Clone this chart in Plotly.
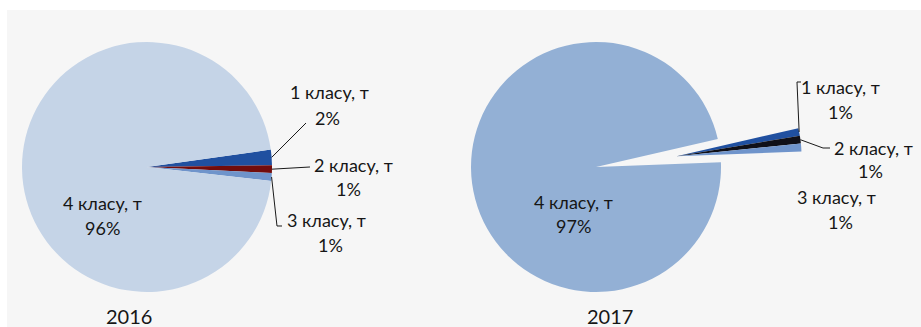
import math
import plotly.graph_objects as go

# --- data -------------------------------------------------------------
categories = ["1 класу, т", "2 класу, т", "3 класу, т", "4 класу, т"]
years = ["2016", "2017"]
shares_2016 = [2, 1, 1, 96]
shares_2017 = [1, 1, 1, 97]

# --- styling ----------------------------------------------------------
colors_2016 = ["#2050a0", "#720c0c", "#6f94cb", "#c5d4e7"]
colors_2017 = ["#2050a0", "#101018", "#6f94cb", "#93b0d5"]
CLEAR = "rgba(0,0,0,0)"
TEXT = "#161616"
FONT = "Lato"
FS = 18
FS_YEAR = 20

W, H = 921, 327
R = 125                      # pie radius, px
C16 = (147, 167)             # pie centres, px
C17 = (596, 167)
ROT16, ROT17 = 82, 77        # start angle of first slice (deg clockwise from 12 o'clock)
PULL17 = 0.65                # explosion of the small slices in 2017, fraction of R


def fx(px):
    return px / W


def fy(py):
    return 1 - py / H


def domain(c):
    cx, cy = c
    return dict(x=[fx(cx - R), fx(cx + R)], y=[fy(cy + R), fy(cy - R)])


def mid_angles(values, rotation):
    total = sum(values)
    out, cur = [], rotation
    for v in values:
        span = 360 * v / total
        out.append(cur + span / 2)
        cur += span
    return out


def rim(c, ang, r=R):
    a = math.radians(ang)
    return c[0] + r * math.sin(a), c[1] - r * math.cos(a)


def pie(values, colors, c, rotation):
    return go.Pie(
        labels=categories, values=values, sort=False, direction="clockwise",
        rotation=rotation, domain=domain(c), textinfo="none", hoverinfo="skip",
        marker=dict(colors=colors, line=dict(width=0)), showlegend=False,
    )


# 2017: the three small slices are exploded together along their common bisector
small_total = sum(shares_2017[:3])
group_mid = ROT17 + 360 * small_total / sum(shares_2017) / 2
off = PULL17 * R
C17w = (C17[0] + off * math.sin(math.radians(group_mid)),
        C17[1] - off * math.cos(math.radians(group_mid)))

fig = go.Figure()
fig.add_trace(pie(shares_2016, colors_2016, C16, ROT16))
fig.add_trace(pie(shares_2017, [CLEAR] * 3 + colors_2017[3:], C17, ROT17))
fig.add_trace(pie(shares_2017, colors_2017[:3] + [CLEAR], C17w, ROT17))

m16 = mid_angles(shares_2016, ROT16)
m17 = mid_angles(shares_2017, ROT17)

shapes = [
    # white strips framing the grey chart area
    dict(type="rect", xref="paper", yref="paper", x0=0, x1=1, y0=fy(10), y1=1,
         fillcolor="white", line_width=0),
    dict(type="rect", xref="paper", yref="paper", x0=0, x1=fx(7), y0=0, y1=1,
         fillcolor="white", line_width=0),
]


def leader(start, pts):
    path = "M {:.5f},{:.5f}".format(fx(start[0]), fy(start[1]))
    for p in pts:
        path += " L {:.5f},{:.5f}".format(fx(p[0]), fy(p[1]))
    shapes.append(dict(type="path", xref="paper", yref="paper", path=path,
                       line=dict(color="#1a1a1a", width=1)))


# leader lines: from the rim of each small slice to its label
leader(rim(C16, m16[0]), [(306, 123)])
leader(rim(C16, m16[1]), [(310, 167)])
leader(rim(C16, m16[2]), [(277, 226), (282, 226)])
leader(rim(C17w, m17[0]), [(797, 82), (801, 82)])
leader(rim(C17w, m17[1]), [(823, 148), (830, 148)])

annotations = []


def label(text, x, y, xanchor="center", size=FS):
    annotations.append(dict(text=text, x=fx(x), y=fy(y), xref="paper", yref="paper",
                            xanchor=xanchor, yanchor="middle", showarrow=False,
                            font=dict(family=FONT, size=size, color=TEXT)))


def pct(v):
    return f"{v}%"


# 2016 labels
label(categories[0], 329, 92)
label(pct(shares_2016[0]), 327, 118)
label(categories[1], 312, 165, "left")
label(pct(shares_2016[1]), 348, 189)
label(categories[2], 326, 220)
label(pct(shares_2016[2]), 330, 245)
label(categories[3], 102, 203)
label(pct(shares_2016[3]), 102, 228)

# 2017 labels
label(categories[0], 840, 87)
label(pct(shares_2017[0]), 840, 112)
label(categories[1], 832, 148, "left")
label(pct(shares_2017[1]), 870, 171)
label(categories[2], 836, 197)
label(pct(shares_2017[2]), 840, 222)
label(categories[3], 573, 202)
label(pct(shares_2017[3]), 573, 226)

# year captions
label(years[0], 129, 316, size=FS_YEAR)
label(years[1], 610, 316, size=FS_YEAR)

fig.update_layout(
    width=W, height=H, margin=dict(l=0, r=0, t=0, b=0),
    paper_bgcolor="#f6f6f6", plot_bgcolor="#f6f6f6",
    shapes=shapes, annotations=annotations,
    font=dict(family=FONT, size=FS, color=TEXT),
)

fig.write_html("out.html", config={"displayModeBar": False})
